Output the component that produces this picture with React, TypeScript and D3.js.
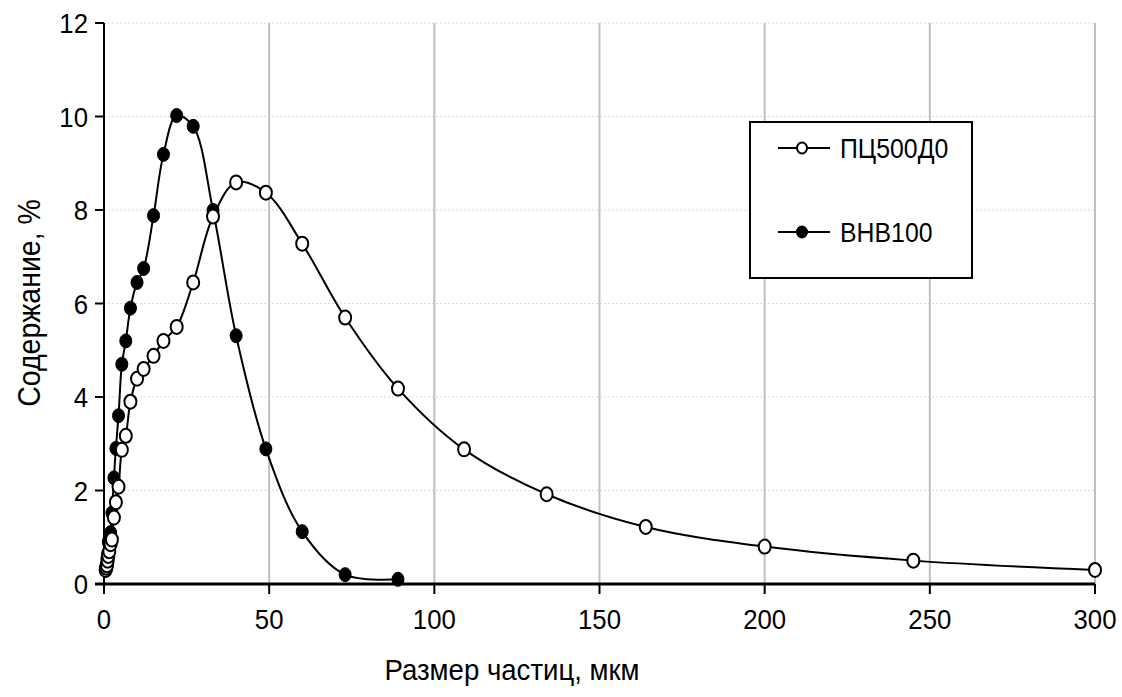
import React from "react";
import * as d3 from "d3";

const sizesA = [0.5, 0.7, 0.9, 1.1, 1.3, 1.6, 2, 2.4, 3, 3.6, 4.4, 5.4, 6.6, 8, 10, 12, 15, 18, 22, 27, 33, 40, 49, 60, 73, 89, 109, 134, 164, 200, 245, 300];
const valuesA = [0.3, 0.35, 0.4, 0.5, 0.6, 0.7, 0.85, 0.95, 1.42, 1.75, 2.08, 2.87, 3.17, 3.9, 4.39, 4.6, 4.88, 5.2, 5.5, 6.45, 7.86, 8.59, 8.37, 7.28, 5.7, 4.18, 2.88, 1.92, 1.22, 0.8, 0.5, 0.3];
const sizesB = [0.5, 0.7, 0.9, 1.1, 1.3, 1.6, 2, 2.4, 3, 3.6, 4.4, 5.4, 6.6, 8, 10, 12, 15, 18, 22, 27, 33, 40, 49, 60, 73, 89];
const valuesB = [0.35, 0.42, 0.55, 0.65, 0.9, 1.0, 1.1, 1.52, 2.27, 2.9, 3.6, 4.7, 5.2, 5.9, 6.45, 6.75, 7.88, 9.19, 10.02, 9.79, 7.99, 5.31, 2.89, 1.12, 0.2, 0.1];
const xTicks = [0, 50, 100, 150, 200, 250, 300];
const yTicks = [0, 2, 4, 6, 8, 10, 12];
const seriesNames = ["ПЦ500Д0", "ВНВ100"];

export default function App() {
  const W = 1122, H = 697;
  const x = d3.scaleLinear().domain([0, 300]).range([104, 1095]);
  const y = d3.scaleLinear().domain([0, 12]).range([584, 23]);
  const ptsA = sizesA.map((s, i) => [x(s), y(valuesA[i])] as [number, number]);
  const ptsB = sizesB.map((s, i) => [x(s), y(valuesB[i])] as [number, number]);
  const lineGen = d3.line().curve(d3.curveCatmullRom.alpha(0.5));
  const font = "Arial, 'Liberation Sans', sans-serif";
  const sx = 0.92;
  return (
    <svg width={W} height={H} style={{ position: "absolute", left: 0, top: 0, background: "#fff" }} fontFamily={font}>
      <rect x={0} y={0} width={W} height={H} fill="#fff" />
      {yTicks.filter(t => t > 0).map(t => (
        <line key={"hy" + t} x1={x(0)} x2={x(300)} y1={y(t)} y2={y(t)} stroke="#d9d9d9" strokeWidth={1} strokeDasharray="2,2" />
      ))}
      {xTicks.filter(t => t > 0).map(t => (
        <line key={"vx" + t} x1={x(t)} x2={x(t)} y1={y(12)} y2={y(0)} stroke="#c0c0c0" strokeWidth={2} />
      ))}
      <line x1={x(0)} x2={x(0)} y1={y(12)} y2={y(0) + 10} stroke="#000" strokeWidth={2} />
      <line x1={x(0) - 9} x2={x(300)} y1={y(0)} y2={y(0)} stroke="#000" strokeWidth={3} />
      {yTicks.map(t => (
        <g key={"yt" + t}>
          <line x1={x(0) - 9} x2={x(0)} y1={y(t)} y2={y(t)} stroke="#000" strokeWidth={2} />
          <text transform={`translate(${x(0) - 16},${y(t)}) scale(${sx},1)`} dy="0.36em" textAnchor="end" fontSize={28}>{t}</text>
        </g>
      ))}
      {xTicks.map(t => (
        <g key={"xt" + t}>
          <line x1={x(t)} x2={x(t)} y1={y(0)} y2={y(0) + 10} stroke="#000" strokeWidth={2} />
          <text transform={`translate(${x(t)},629) scale(${sx},1)`} textAnchor="middle" fontSize={28}>{t}</text>
        </g>
      ))}
      <text transform={`translate(512,680) scale(${sx},1)`} textAnchor="middle" fontSize={30}>Размер частиц, мкм</text>
      <text transform={`translate(40,303) rotate(-90) scale(${sx},1)`} textAnchor="middle" fontSize={31}>Содержание, %</text>
      <path d={lineGen(ptsA) || ""} fill="none" stroke="#000" strokeWidth={2} />
      <path d={lineGen(ptsB) || ""} fill="none" stroke="#000" strokeWidth={2} />
      {ptsB.map((p, i) => (
        <ellipse key={"b" + i} cx={p[0]} cy={p[1]} rx={6} ry={7} fill="#000" stroke="#000" strokeWidth={1} />
      ))}
      {ptsA.map((p, i) => (
        <ellipse key={"a" + i} cx={p[0]} cy={p[1]} rx={6} ry={7} fill="#fff" stroke="#000" strokeWidth={2} />
      ))}
      <rect x={750} y={122} width={222} height={156} fill="#fff" stroke="#000" strokeWidth={2} />
      {seriesNames.map((n, i) => {
        const ly = 148 + i * 84;
        return (
          <g key={n}>
            <line x1={778} x2={830} y1={ly} y2={ly} stroke="#000" strokeWidth={2} />
            <ellipse cx={802} cy={ly} rx={5} ry={5.5} fill={i === 0 ? "#fff" : "#000"} stroke="#000" strokeWidth={2} />
            <text transform={`translate(840,${ly}) scale(${sx},1)`} dy="0.36em" fontSize={27}>{n}</text>
          </g>
        );
      })}
    </svg>
  );
}
